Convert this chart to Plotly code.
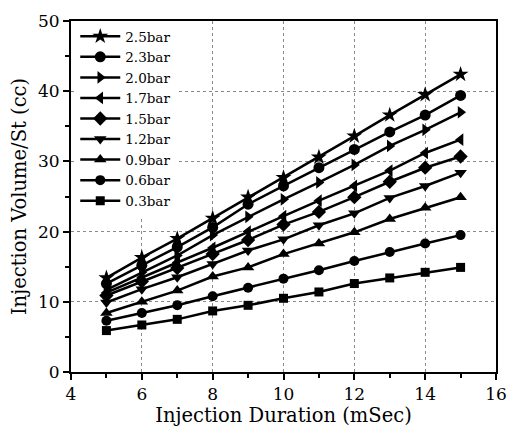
import plotly.graph_objects as go

duration = [5, 6, 7, 8, 9, 10, 11, 12, 13, 14, 15]
series_names = ["2.5bar", "2.3bar", "2.0bar", "1.7bar", "1.5bar", "1.2bar", "0.9bar", "0.6bar", "0.3bar"]
v_25 = [13.4, 16.3, 19.0, 21.9, 24.9, 27.7, 30.6, 33.6, 36.6, 39.5, 42.4]
v_23 = [12.6, 15.2, 17.8, 20.6, 23.9, 26.5, 29.1, 31.7, 34.2, 36.6, 39.4]
v_20 = [11.7, 14.2, 16.6, 19.5, 22.1, 24.6, 27.0, 29.5, 32.2, 34.5, 37.0]
v_17 = [11.3, 13.5, 15.6, 17.7, 20.0, 22.2, 24.4, 26.5, 28.7, 31.2, 33.1]
v_15 = [10.9, 12.9, 14.8, 16.8, 18.8, 21.0, 22.8, 24.9, 27.1, 29.1, 30.7]
v_12 = [9.9, 11.8, 13.5, 15.4, 17.3, 18.9, 20.9, 22.6, 24.8, 26.5, 28.4]
v_09 = [8.4, 10.0, 11.6, 13.6, 14.9, 16.8, 18.3, 19.9, 21.8, 23.4, 24.9]
v_06 = [7.3, 8.4, 9.5, 10.8, 12.0, 13.3, 14.5, 15.8, 17.1, 18.3, 19.5]
v_03 = [5.9, 6.7, 7.5, 8.7, 9.5, 10.5, 11.4, 12.6, 13.4, 14.2, 14.9]
series_values = [v_25, v_23, v_20, v_17, v_15, v_12, v_09, v_06, v_03]
symbols = ["star", "circle", "triangle-right", "triangle-left", "diamond",
           "triangle-down", "triangle-up", "circle", "square"]
sizes = [12, 11, 11, 11, 11, 11, 11, 10, 9]

FONT = "DejaVu Serif"

fig = go.Figure()
for name, vals, sym, sz in zip(series_names, series_values, symbols, sizes):
    fig.add_trace(go.Scatter(
        x=duration, y=vals, name=name, mode="lines+markers",
        line=dict(color="black", width=2.5),
        marker=dict(symbol=sym, size=sz, color="black"),
    ))

axis_common = dict(
    showline=True, linecolor="black", linewidth=2, mirror=True,
    ticks="outside", ticklen=6, tickwidth=1.5, tickcolor="black",
    showgrid=True, gridcolor="#8a8a8a", griddash="dot", gridwidth=1,
    zeroline=False,
    tickfont=dict(family=FONT, size=17, color="black"),
)

fig.update_xaxes(
    range=[4, 16], dtick=2, tick0=4,
    minor=dict(dtick=1, ticks="outside", ticklen=4, tickcolor="black", showgrid=False),
    title=dict(text="Injection Duration (mSec)", font=dict(family=FONT, size=19.5, color="black"), standoff=4),
    **axis_common,
)
fig.update_yaxes(
    range=[0, 50], dtick=10,
    minor=dict(dtick=5, ticks="outside", ticklen=4, tickcolor="black", showgrid=False),
    title=dict(text="Injection Volume/St (cc)", font=dict(family=FONT, size=19.5, color="black"), standoff=6),
    **axis_common,
)

fig.update_layout(
    width=518, height=433,
    margin=dict(l=71, r=11, t=15, b=60),
    paper_bgcolor="white", plot_bgcolor="white",
    font=dict(family=FONT, color="black"),
    legend=dict(
        x=0.01, y=1.0, xanchor="left", yanchor="top",
        bgcolor="white", borderwidth=0,
        font=dict(family=FONT, size=13.5, color="black"),
        itemwidth=40, tracegroupgap=0,
    ),
    showlegend=True,
)

fig.write_html("out.html")
